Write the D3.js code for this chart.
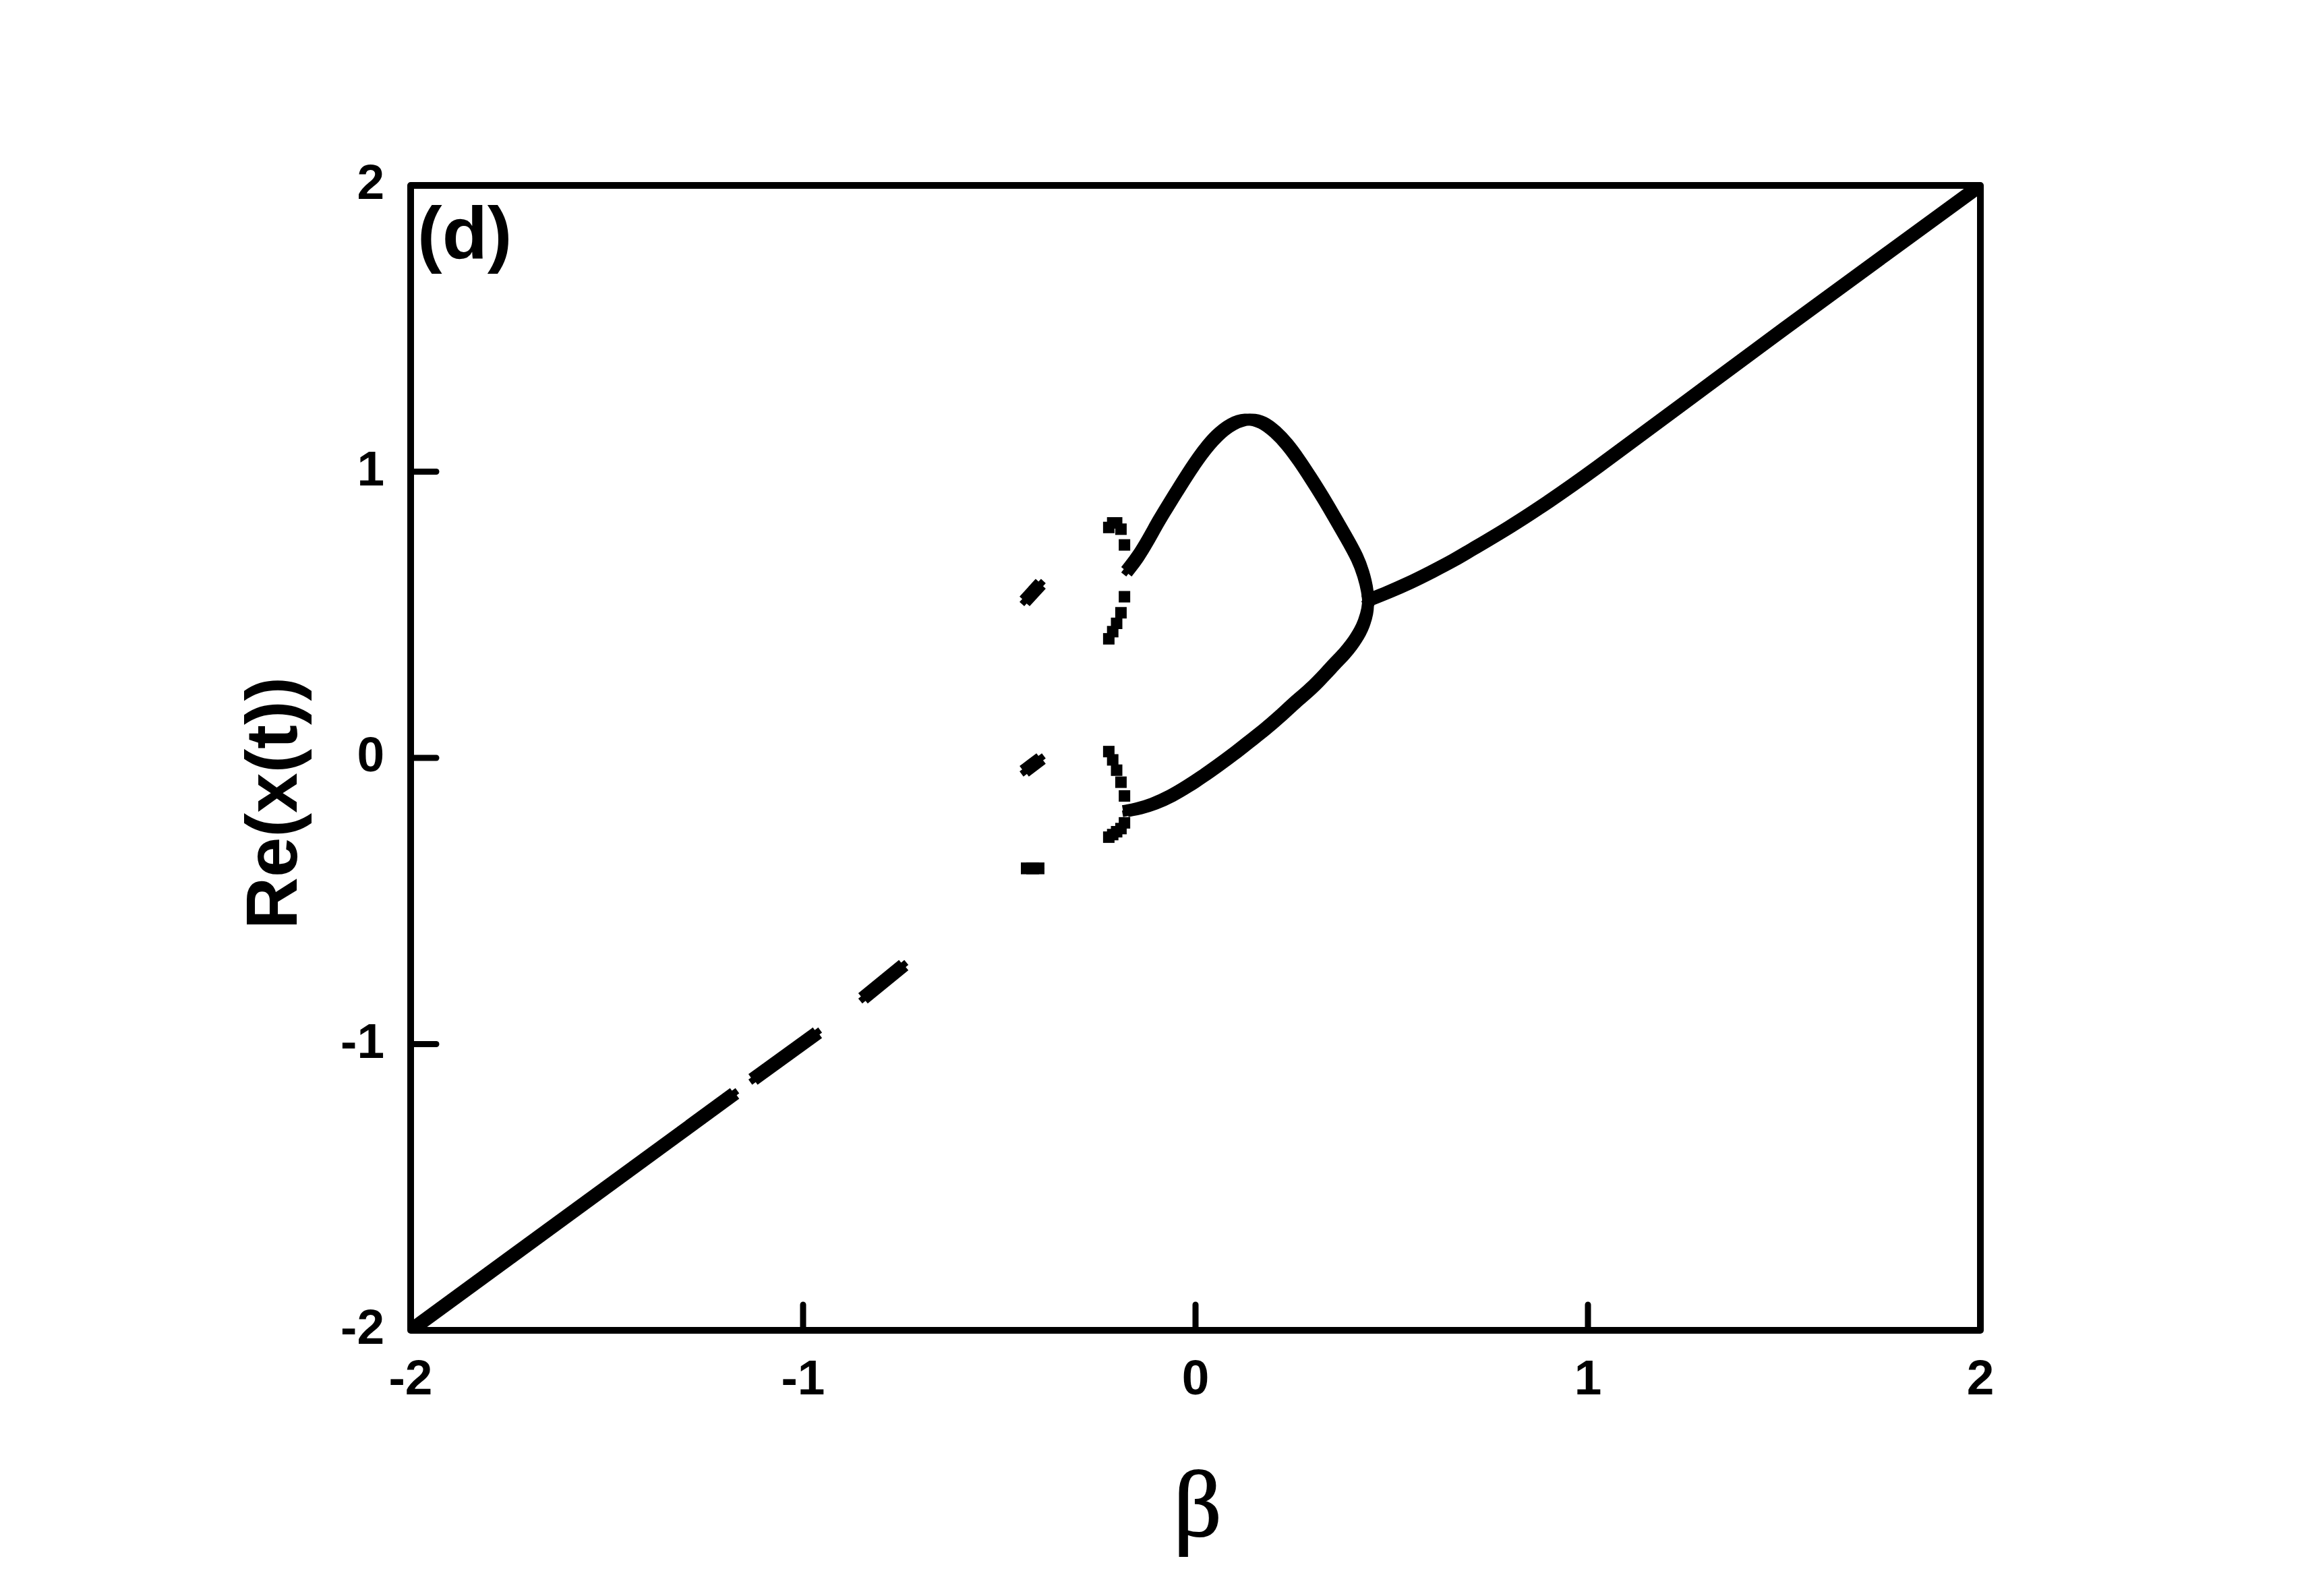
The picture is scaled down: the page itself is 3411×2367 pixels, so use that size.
<!DOCTYPE html>
<html>
<head>
<meta charset="utf-8">
<script src="https://cdnjs.cloudflare.com/ajax/libs/d3/7.8.5/d3.min.js"></script>
<style>
body { margin: 0; background: #fff; }
</style>
</head>
<body>
<div id="chart"></div>
<script>
// branches, each point is [beta, Re(x(t))]
var diagSeg1 = [[-2, -2], [-1.181, -1.179]];
var diagSeg2 = [[-1.121, -1.117], [-0.970, -0.967]];
var diagSeg3 = [[-0.841, -0.833], [-0.750, -0.731]];

// period-3 window
var cycle3Top = [[-0.430, 0.555], [-0.400, 0.600]];
var cycle3Mid = [[-0.430, -0.040], [-0.400, -0.009]];
var cycle3Low = [[-0.430, -0.386], [-0.400, -0.386]];

// period-4 window, one value per beta
var beta4 = [-0.221, -0.211, -0.201, -0.190, -0.181];
var cycle4A = [0.805, 0.821, 0.821, 0.799, 0.744];
var cycle4B = [0.416, 0.441, 0.470, 0.507, 0.563];
var cycle4C = [0.022, -0.007, -0.043, -0.085, -0.133];
var cycle4D = [-0.277, -0.268, -0.258, -0.247, -0.227];

// period-2 loop
var loopUpper = [[-0.171, 0.659], [-0.147, 0.701], [-0.121, 0.760], [-0.094, 0.828],
    [-0.068, 0.886], [-0.048, 0.930], [-0.025, 0.981], [0.015, 1.064], [0.055, 1.129],
    [0.093, 1.169], [0.132, 1.187], [0.172, 1.175], [0.204, 1.139], [0.233, 1.098],
    [0.264, 1.040], [0.294, 0.977], [0.324, 0.912], [0.353, 0.844], [0.384, 0.771],
    [0.414, 0.697], [0.428, 0.643], [0.438, 0.588], [0.440, 0.551]];
var loopLower = [[-0.171, -0.184], [-0.147, -0.178], [-0.107, -0.162], [-0.061, -0.133],
    [-0.022, -0.101], [0.018, -0.065], [0.057, -0.027], [0.096, 0.012], [0.136, 0.056],
    [0.175, 0.097], [0.215, 0.144], [0.254, 0.195], [0.294, 0.240], [0.333, 0.296],
    [0.358, 0.334], [0.379, 0.363], [0.399, 0.397], [0.409, 0.418], [0.419, 0.440],
    [0.429, 0.469], [0.439, 0.514], [0.440, 0.551]];

// single fixed point after the merge
var rightBranch = [[0.440, 0.551], [0.493, 0.580], [0.542, 0.609], [0.602, 0.650],
    [0.662, 0.693], [0.694, 0.720], [0.800, 0.805], [0.900, 0.895], [1.000, 0.990],
    [1.250, 1.245], [1.500, 1.500], [1.750, 1.750], [2.000, 2.000]];

var xTicks = [-2, -1, 0, 1, 2];
var yTicks = [-2, -1, 0, 1, 2];

function draw_Bifurcation() {
    "use strict";
    var W = 3411, H = 2367;
    var svg = d3.select("#chart")
        .append("svg")
        .attr("width", W)
        .attr("height", H)
        .style("background", "#fff");

    var x = d3.scaleLinear().domain([-2, 2]).range([609, 2937]);
    var y = d3.scaleLinear().domain([-2, 2]).range([1973, 275]);

    svg.append("clipPath")
        .attr("id", "plotClip")
        .append("rect")
        .attr("x", x(-2))
        .attr("y", y(2))
        .attr("width", x(2) - x(-2))
        .attr("height", y(-2) - y(2));

    var plot = svg.append("g").attr("clip-path", "url(#plotClip)");

    // the original marks are small squares, so sweep a square-ish brush along each branch
    var brush = [[0, 0], [-4, -4], [4, -4], [-4, 4], [4, 4]];
    function branch(pts, curve) {
        var line = d3.line()
            .x(function (d) { return x(d[0]); })
            .y(function (d) { return y(d[1]); })
            .curve(curve || d3.curveLinear);
        brush.forEach(function (o) {
            plot.append("path")
                .attr("d", line(pts))
                .attr("transform", "translate(" + o[0] + "," + o[1] + ")")
                .attr("fill", "none")
                .attr("stroke", "#000")
                .attr("stroke-width", 9.5)
                .attr("stroke-linecap", "square")
                .attr("stroke-linejoin", "round");
        });
    }

    branch(diagSeg1);
    branch(diagSeg2);
    branch(diagSeg3);
    branch(cycle3Top);
    branch(cycle3Mid);
    branch(cycle3Low);
    branch(loopUpper, d3.curveBasis);
    branch(loopLower, d3.curveBasis);
    branch(rightBranch, d3.curveBasis);

    [cycle4A, cycle4B, cycle4C, cycle4D].forEach(function (vals) {
        plot.selectAll(null)
            .data(vals)
            .enter()
            .append("rect")
            .attr("x", function (d, i) { return x(beta4[i]) - 8.5; })
            .attr("y", function (d) { return y(d) - 8.5; })
            .attr("width", 17)
            .attr("height", 17)
            .attr("fill", "#000");
    });

    // frame
    svg.append("rect")
        .attr("x", x(-2))
        .attr("y", y(2))
        .attr("width", x(2) - x(-2))
        .attr("height", y(-2) - y(2))
        .attr("fill", "none")
        .attr("stroke", "#000")
        .attr("stroke-width", 10)
        .attr("stroke-linejoin", "round");

    // inward ticks
    svg.selectAll(null)
        .data(xTicks.slice(1, -1))
        .enter()
        .append("line")
        .attr("x1", function (d) { return x(d); })
        .attr("x2", function (d) { return x(d); })
        .attr("y1", y(-2))
        .attr("y2", y(-2) - 38)
        .attr("stroke", "#000")
        .attr("stroke-width", 9)
        .attr("stroke-linecap", "round");

    svg.selectAll(null)
        .data(yTicks.slice(1, -1))
        .enter()
        .append("line")
        .attr("x1", x(-2))
        .attr("x2", x(-2) + 38)
        .attr("y1", function (d) { return y(d); })
        .attr("y2", function (d) { return y(d); })
        .attr("stroke", "#000")
        .attr("stroke-width", 9)
        .attr("stroke-linecap", "round");

    var sans = "'Liberation Sans', Arial, sans-serif";

    svg.selectAll(null)
        .data(xTicks)
        .enter()
        .append("text")
        .attr("x", function (d) { return x(d); })
        .attr("y", 2068)
        .attr("text-anchor", "middle")
        .style("font-family", sans)
        .style("font-weight", "bold")
        .style("font-size", "73px")
        .text(function (d) { return d; });

    svg.selectAll(null)
        .data(yTicks)
        .enter()
        .append("text")
        .attr("x", 570)
        .attr("y", function (d) { return y(d) + 20; })
        .attr("text-anchor", "end")
        .style("font-family", sans)
        .style("font-weight", "bold")
        .style("font-size", "73px")
        .text(function (d) { return d; });

    svg.append("text")
        .attr("x", 619)
        .attr("y", 383)
        .style("font-family", sans)
        .style("font-weight", "bold")
        .style("font-size", "110px")
        .text("(d)");

    svg.append("text")
        .attr("transform", "translate(440,1191) rotate(-90)")
        .attr("text-anchor", "middle")
        .style("font-family", sans)
        .style("font-weight", "bold")
        .style("font-size", "107px")
        .text("Re(x(t))");

    svg.append("text")
        .attr("x", x(0) + 3)
        .attr("y", 2278)
        .attr("text-anchor", "middle")
        .style("font-family", "'Liberation Serif', 'Times New Roman', serif")
        .style("font-size", "140px")
        .style("stroke", "#000")
        .style("stroke-width", 2)
        .text("β");
}

draw_Bifurcation();
</script>
</body>
</html>
